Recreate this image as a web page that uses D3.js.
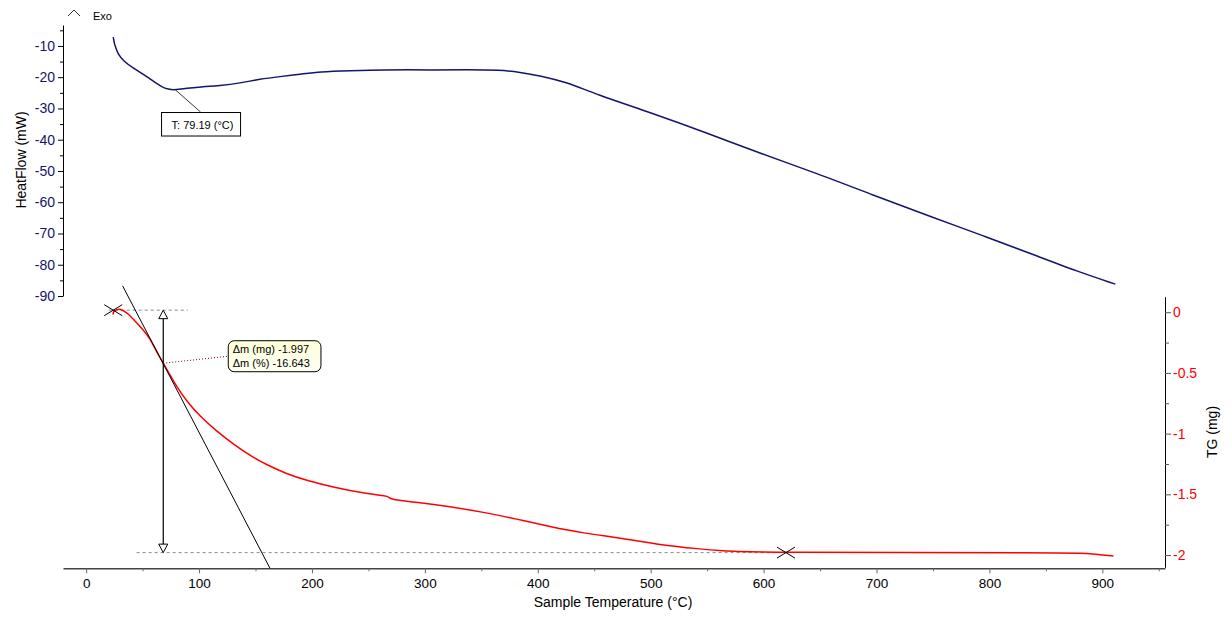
<!DOCTYPE html>
<html>
<head>
<meta charset="utf-8">
<script src="https://cdn.jsdelivr.net/npm/d3@7"></script>
<style>
    body { margin: 0; background: #fff; }
    svg text { font-family: "Liberation Sans", Arial, sans-serif; }
</style>
</head>
<body>
<div id="chart"></div>
<script>
// HeatFlow curve (mW) vs sample temperature (°C)
const hfTemp = [24.0, 25.1, 26.4, 28.2, 32.9, 41.7, 50.6, 59.4, 66.9, 72.7, 79.2, 89.0, 100.8, 118.5, 136.2,
    153.9, 171.7, 189.4, 207.1, 233.7, 262.9, 307.2, 337.0, 366.5, 384.2, 401.9, 425.6, 451.1, 500.3,
    549.4, 598.6, 647.7, 696.9, 746.1, 795.2, 844.3, 877.1, 911.5];
const hfValue = [-7.2, -9.4, -10.7, -12.6, -14.8, -17.1, -19.1, -21.2, -23.1, -23.9, -24.1, -23.5, -23.1, -22.7, -21.9,
    -20.6, -19.8, -19.1, -18.2, -17.9, -17.6, -17.7, -17.6, -17.7, -18.4, -19.5, -21.6, -25.4, -31.4,
    -37.8, -44.6, -50.8, -57.7, -64.4, -70.8, -77.5, -82.0, -86.2];

// TG curve (mg) vs sample temperature (°C)
const tgTemp = [23.8, 24.0, 27.0, 29.9, 35.9, 41.7, 50.6, 56.5, 62.4, 68.3, 74.2, 80.2, 89.0, 100.8, 115.6,
    130.3, 145.1, 159.9, 177.6, 195.3, 218.9, 248.4, 266.2, 267.8, 270.6, 292.7, 322.2, 351.7, 381.3,
    410.8, 440.3, 472.8, 508.2, 543.6, 564.3, 585.0, 872.9, 886.2, 898.0, 909.8];
const tgValue = [-0.02, 0.005, 0.023, 0.027, 0.0, -0.055, -0.146, -0.214, -0.325, -0.42, -0.516, -0.613, -0.732, -0.858, -0.979,
    -1.086, -1.18, -1.257, -1.331, -1.386, -1.441, -1.495, -1.513, -1.521, -1.546, -1.565, -1.601, -1.647, -1.703,
    -1.766, -1.82, -1.859, -1.917, -1.95, -1.966, -1.98, -1.98, -1.985, -1.999, -2.007];

// tick labels
const xTicks = [0, 100, 200, 300, 400, 500, 600, 700, 800, 900];
const xMinorTicks = [50, 150, 250, 350, 450, 550, 650, 750, 850, 950];
const hfTicks = [-10, -20, -30, -40, -50, -60, -70, -80, -90];
const hfMinorTicks = [-5, -15, -25, -35, -45, -55, -65, -75, -85];
const tgTicks = [0, -0.5, -1, -1.5, -2];
const tgMinorTicks = [-0.25, -0.75, -1.25, -1.75];

// analysis marks
const peakTemp = 79.19, peakValue = -24.1;
const stepStart = [24.0, 0.017];
const stepEnd = [619.8, -1.98];
const inflection = [68.3, -0.42];
const tangent = [[32.3, 0.217], [162.8, -2.109]];
const massLoss = "-1.997", massLossPct = "-16.643";

const width = 1232, height = 624;
const navy = "#14146e";

const svg = d3.select("#chart").append("svg")
    .attr("width", width)
    .attr("height", height);

const x = d3.scaleLinear().domain([-20.5, 955.5]).range([63, 1165]);
const yHF = d3.scaleLinear().domain([-90, -3.3]).range([296, 25]);
const yTG = d3.scaleLinear().domain([-2.101, 0.128]).range([567.3, 296.7]);

// ---- axes ----
const fmt = d => String(d);

// left (HeatFlow)
const gl = svg.append("g").attr("transform", "translate(63,0)");
gl.call(d3.axisLeft(yHF).tickValues(hfTicks).tickSize(5).tickSizeOuter(0).tickPadding(3).tickFormat(fmt));
gl.append("g").call(d3.axisLeft(yHF).tickValues(hfMinorTicks).tickSize(3).tickSizeOuter(0).tickFormat(""))
    .select(".domain").remove();
gl.selectAll("text").attr("fill", navy).style("font-size", "14px");
gl.selectAll("line, path").attr("stroke", "#000");

// right (TG)
const gr = svg.append("g").attr("transform", "translate(1165,0)");
gr.call(d3.axisRight(yTG).tickValues(tgTicks).tickSize(6).tickSizeOuter(0).tickPadding(2).tickFormat(fmt));
gr.append("g").call(d3.axisRight(yTG).tickValues(tgMinorTicks).tickSize(4).tickSizeOuter(0).tickFormat(""))
    .select(".domain").remove();
gr.selectAll("text").attr("fill", "#ff0000").style("font-size", "14px");
gr.selectAll("line").attr("stroke", "#555");
gr.selectAll("path").attr("stroke", "#000");

// bottom (temperature)
const gb = svg.append("g").attr("transform", "translate(0,568.3)");
gb.call(d3.axisBottom(x).tickValues(xTicks).tickSize(5).tickSizeOuter(0).tickPadding(5).tickFormat(fmt));
gb.append("g").call(d3.axisBottom(x).tickValues(xMinorTicks).tickSize(3).tickSizeOuter(0).tickFormat(""))
    .select(".domain").remove();
gb.selectAll("text").attr("fill", "#000").style("font-size", "13.5px");
gb.selectAll("line").attr("stroke", "#666");
gb.selectAll("path").attr("stroke", "#444").attr("stroke-width", 1.5);

// axis titles
svg.append("text")
    .attr("transform", "translate(26,160) rotate(-90)")
    .attr("text-anchor", "middle")
    .style("font-size", "14px")
    .text("HeatFlow (mW)");

svg.append("text")
    .attr("transform", "translate(1217,432) rotate(-90)")
    .attr("text-anchor", "middle")
    .style("font-size", "14px")
    .text("TG (mg)");

svg.append("text")
    .attr("x", 613).attr("y", 607)
    .attr("text-anchor", "middle")
    .style("font-size", "14px")
    .text("Sample Temperature (°C)");

// Exo marker
svg.append("path")
    .attr("d", "M68,16 L74,10 L80,16")
    .attr("fill", "none").attr("stroke", "#000").attr("stroke-width", 0.8);
svg.append("text").attr("x", 93).attr("y", 19.5).style("font-size", "11px").text("Exo");

// ---- dashed reference levels ----
const dash = svg.append("g").attr("stroke", "#8a8a8a").attr("stroke-dasharray", "3,3").attr("stroke-width", 1);
dash.append("line")
    .attr("x1", x(20)).attr("x2", x(90))
    .attr("y1", yTG(stepStart[1])).attr("y2", yTG(stepStart[1]));
dash.append("line")
    .attr("x1", x(44.7)).attr("x2", x(stepEnd[0]))
    .attr("y1", yTG(stepEnd[1])).attr("y2", yTG(stepEnd[1]));

// ---- curves ----
const hfData = hfTemp.map((t, i) => [t, hfValue[i]]);
const tgData = tgTemp.map((t, i) => [t, tgValue[i]]);

svg.append("path")
    .datum(hfData)
    .attr("fill", "none")
    .attr("stroke", navy)
    .attr("stroke-width", 1.5)
    .attr("d", d3.line().x(d => x(d[0])).y(d => yHF(d[1])).curve(d3.curveBasis));

svg.append("path")
    .datum(tgData)
    .attr("fill", "none")
    .attr("stroke", "#ff0000")
    .attr("stroke-width", 1.5)
    .attr("d", d3.line().x(d => x(d[0])).y(d => yTG(d[1])).curve(d3.curveBasis));

// tangent line
svg.append("line")
    .attr("x1", x(tangent[0][0])).attr("y1", yTG(tangent[0][1]))
    .attr("x2", x(tangent[1][0])).attr("y2", yTG(tangent[1][1]))
    .attr("stroke", "#000").attr("stroke-width", 1);

// step crosses
[stepStart, stepEnd].forEach(p => {
    const cx = x(p[0]), cy = yTG(p[1]);
    svg.append("path")
        .attr("d", `M${cx - 9},${cy - 5.5}L${cx + 9},${cy + 5.5}M${cx - 9},${cy + 5.5}L${cx + 9},${cy - 5.5}`)
        .attr("stroke", "#000").attr("stroke-width", 1);
});

// vertical mass-loss arrow
const ax = x(inflection[0]);
const aTop = yTG(stepStart[1]), aBot = yTG(stepEnd[1]);
svg.append("line")
    .attr("x1", ax).attr("x2", ax).attr("y1", aTop + 8).attr("y2", aBot - 8)
    .attr("stroke", "#000").attr("stroke-width", 1.2);
svg.append("path")
    .attr("d", `M${ax},${aTop}L${ax - 4.5},${aTop + 8.5}L${ax + 4.5},${aTop + 8.5}Z`)
    .attr("fill", "#fff").attr("stroke", "#000");
svg.append("path")
    .attr("d", `M${ax},${aBot}L${ax - 4.5},${aBot - 8.5}L${ax + 4.5},${aBot - 8.5}Z`)
    .attr("fill", "#fff").attr("stroke", "#000");

// Δm callout
const ix = x(inflection[0]), iy = yTG(inflection[1]);
const bx = ix + 65, by = iy - 22.5;
svg.append("line")
    .attr("x1", ix).attr("y1", iy).attr("x2", bx).attr("y2", iy - 7)
    .attr("stroke", "#800000").attr("stroke-width", 1).attr("stroke-dasharray", "1,2");

const grad = svg.append("defs").append("linearGradient")
    .attr("id", "boxFill").attr("x1", 0).attr("x2", 0).attr("y1", 0).attr("y2", 1);
grad.append("stop").attr("offset", "0%").attr("stop-color", "#ffffd8");
grad.append("stop").attr("offset", "100%").attr("stop-color", "#fffff4");

svg.append("rect")
    .attr("x", bx).attr("y", by).attr("width", 92.7).attr("height", 31)
    .attr("rx", 6).attr("ry", 6)
    .attr("fill", "url(#boxFill)").attr("stroke", "#000").attr("stroke-width", 1);
svg.append("text").attr("x", bx + 4.5).attr("y", by + 11.8).style("font-size", "11px")
    .text("Δm (mg) " + massLoss);
svg.append("text").attr("x", bx + 4.5).attr("y", by + 26).style("font-size", "11px")
    .text("Δm (%) " + massLossPct);

// peak temperature callout
const px = x(peakTemp), py = yHF(peakValue);
svg.append("line")
    .attr("x1", px).attr("y1", py).attr("x2", px + 25).attr("y2", py + 22)
    .attr("stroke", "#000").attr("stroke-width", 0.8);
svg.append("rect")
    .attr("x", px - 14).attr("y", py + 22.5).attr("width", 79).attr("height", 23.5)
    .attr("fill", "#fff").attr("stroke", "#000").attr("stroke-width", 1);
svg.append("text").attr("x", px - 4).attr("y", py + 39).style("font-size", "11px")
    .text("T: " + peakTemp.toFixed(2) + " (°C)");
</script>
</body>
</html>
